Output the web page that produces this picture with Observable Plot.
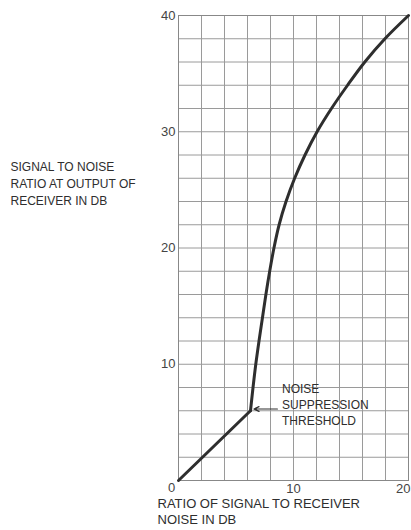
<!DOCTYPE html>
<html><head><meta charset="utf-8">
<script src="https://cdn.jsdelivr.net/npm/d3@7"></script>
<script src="https://cdn.jsdelivr.net/npm/@observablehq/plot@0.6"></script>
<style>body{margin:0;background:#fff;} svg{display:block;}</style>
</head><body><div id="chart"></div>
<script>
// Data
const xInput = [0, 6.26, 6.48, 6.72, 7.0, 7.3, 7.6, 7.93, 8.3, 8.75, 9.35, 10.1, 11.0, 12.05, 13.3, 14.7, 16.2, 17.95, 20];
const yOutput = [0, 6.0, 8, 10, 12, 14, 16, 18, 20, 22, 24, 26, 28, 30, 32, 34, 36, 38, 40];
const thresholdIndex = 1;
const xTicks = [10];
const xTicksEnd = [20];
const yTicks = [10, 20, 30, 40];
const xGrid = d3.range(0, 21, 2);
const yGrid = d3.range(0, 41, 2);
const yTitle = "SIGNAL TO NOISE\nRATIO AT OUTPUT OF\nRECEIVER IN DB";
const xTitle = "RATIO OF SIGNAL TO RECEIVER\nNOISE IN DB";
const note = "NOISE\nSUPPRESSION\nTHRESHOLD";

const pts = xInput.map((x, i) => ({x, y: yOutput[i]}));
const lower = pts.slice(0, thresholdIndex + 1);
const upper = pts.slice(thresholdIndex);
const thr = pts[thresholdIndex];

const font = "Liberation Sans, Arial, sans-serif";
const ink = "#2e2e2e";

const chart = Plot.plot({
  width: 411, height: 530,
  marginLeft: 178, marginRight: 3, marginTop: 15, marginBottom: 50,
  style: {fontFamily: font, fontSize: "12px", color: ink, background: "#fff", overflow: "visible"},
  x: {domain: [0, 20]},
  y: {domain: [0, 40]},
  marks: [
    Plot.ruleX(xGrid, {stroke: "#9a9a9a", strokeWidth: 1}),
    Plot.ruleY(yGrid, {stroke: "#9a9a9a", strokeWidth: 1}),
    Plot.frame({stroke: "#888"}),
    Plot.axisX({ticks: xTicks, tickSize: 0, tickPadding: 3, label: null, fontSize: 13, fill: "#444"}),
    Plot.axisX({ticks: xTicksEnd, tickSize: 0, tickPadding: 3, label: null, fontSize: 13, fill: "#444", textAnchor: "end", dx: 2}),
    Plot.axisY({ticks: yTicks, tickSize: 0, tickPadding: 3, label: null, fontSize: 13, fill: "#444"}),
    Plot.text([0], {x: 0, y: 0, text: () => "0", dx: -7, dy: 7, fontSize: 13, fill: "#444"}),
    Plot.line(lower, {x: "x", y: "y", stroke: ink, strokeWidth: 3}),
    Plot.line(upper, {x: "x", y: "y", stroke: ink, strokeWidth: 3, curve: "catmull-rom"}),
    Plot.arrow([thr], {x1: 8.6, y1: d => d.y + 0.15, x2: d => d.x + 0.3, y2: d => d.y + 0.15, stroke: ink, strokeWidth: 1.2, headLength: 7, headAngle: 50}),
    Plot.text([note], {x: 9.0, y: 8.5, text: d => d, textAnchor: "start", lineAnchor: "top", lineHeight: 1.33, fontSize: 12, fill: ink}),
    Plot.text([yTitle], {x: 0, y: 25.6, text: d => d, dx: -168, textAnchor: "start", lineAnchor: "middle", lineHeight: 1.4, fontSize: 12, fill: ink}),
    Plot.text([xTitle], {x: 0, y: 0, text: d => d, dx: -21, dy: 15, textAnchor: "start", lineAnchor: "top", lineHeight: 1.3, fontSize: 13, fill: ink})
  ]
});
document.getElementById("chart").append(chart);
</script></body></html>
